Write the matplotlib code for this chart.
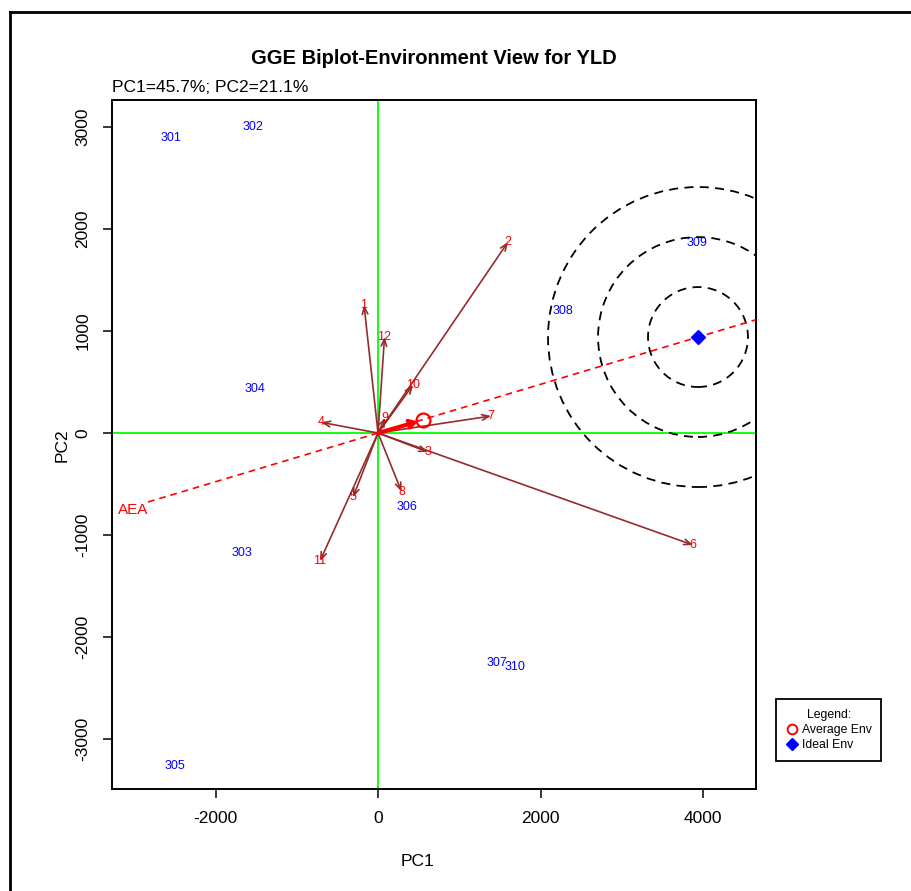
import matplotlib
matplotlib.use("Agg")
import matplotlib.pyplot as plt
from matplotlib.patches import Ellipse
from matplotlib.lines import Line2D

plt.rcParams['font.family'] = ['Liberation Sans', 'DejaVu Sans']

# ---- data ----
env_labels = ['1', '2', '3', '4', '5', '6', '7', '8', '9', '10', '11', '12']
env_x = [-172, 1600, 615, -700, -308, 3877, 1391, 290, 90, 431, -714, 80]
env_y = [1255, 1873, -186, 105, -630, -1098, 167, -575, 150, 471, -1255, 941]

gen_labels = ['301', '302', '303', '304', '305', '306', '307', '308', '309', '310']
gen_x = [-2548, -1538, -1674, -1514, -2498, 357, 1465, 2277, 3926, 1686]
gen_y = [2892, 3000, -1176, 431, -3265, -725, -2255, 1196, 1863, -2294]

avg_env = (554, 127)
ideal_env = (3938, 941)
aea_x = [-2830, 5200]
aea_y = [-676, 1242]
aea_label_pos = (-3015, -755)
circle_radii = [615, 1230, 1846]   # in PC1 units

xticks = [-2000, 0, 2000, 4000]
yticks = [-3000, -2000, -1000, 0, 1000, 2000, 3000]
xlim = (-3274, 4652)
ylim = (-3490, 3265)

W, H = 912, 891
fig = plt.figure(figsize=(W / 100, H / 100), dpi=100)
ax = fig.add_axes([112 / W, 1 - 789 / H, (756 - 112) / W, (789 - 100) / H])
ax.set_xlim(*xlim)
ax.set_ylim(*ylim)

# green reference axes
ax.axhline(0, color='#00FF00', lw=1.3, zorder=1)
ax.axvline(0, color='#00FF00', lw=1.3, zorder=1)

# concentric circles around ideal env (circular on screen)
ax_w_px = (756 - 112)
ax_h_px = (789 - 100)
sx = ax_w_px / (xlim[1] - xlim[0])
sy = ax_h_px / (ylim[1] - ylim[0])
for r in circle_radii:
    e = Ellipse(ideal_env, width=2 * r, height=2 * r * sx / sy, fill=False,
                edgecolor='black', lw=1.3, linestyle=(0, (5, 3.5)), zorder=2)
    ax.add_patch(e)

# AEA dashed line
ax.plot(aea_x, aea_y, color='red', lw=1.2, linestyle=(0, (4, 3)), zorder=3)
ax.text(*aea_label_pos, 'AEA', color='red', fontsize=11, ha='center', va='center')

# environment vectors
vec_color = '#962B2B'
for lab, x, y in zip(env_labels, env_x, env_y):
    ax.annotate('', xy=(x, y), xytext=(0, 0),
                arrowprops=dict(arrowstyle='->,head_length=0.5,head_width=0.2',
                                color=vec_color, lw=1.2, shrinkA=0, shrinkB=0),
                zorder=4)
    ax.text(x, y, lab, color='red', fontsize=9, ha='center', va='center', zorder=5)

# average env arrow
ax.annotate('', xy=avg_env, xytext=(0, 0),
            arrowprops=dict(arrowstyle='->,head_length=0.4,head_width=0.25',
                            color='red', lw=3, shrinkA=0, shrinkB=4),
            zorder=5)
ax.plot([avg_env[0]], [avg_env[1]], marker='o', ms=10, mfc='none', mec='red', mew=1.6, zorder=6)

# ideal env
ax.plot([ideal_env[0]], [ideal_env[1]], marker='D', ms=7, color='blue', zorder=6)

# genotype labels
for lab, x, y in zip(gen_labels, gen_x, gen_y):
    ax.text(x, y, lab, color='blue', fontsize=9, ha='center', va='center', zorder=5)

# ticks
ax.set_xticks(xticks)
ax.set_yticks(yticks)
ax.set_xticklabels([str(t) for t in xticks])
ax.set_yticklabels([str(t) for t in yticks], rotation=90, va='center')
ax.tick_params(direction='out', length=6.5, width=1.1, labelsize=12.5, pad=9)
for s in ax.spines.values():
    s.set_linewidth(1.4)

# texts
fig.text(434 / W, 1 - 58 / H, 'GGE Biplot-Environment View for YLD', ha='center', va='center',
         fontsize=14.5, fontweight='bold')
fig.text(112 / W, 1 - 88 / H, 'PC1=45.7%; PC2=21.1%', ha='left', va='center', fontsize=12.5)
fig.text(418 / W, 1 - 862 / H, 'PC1', ha='center', va='center', fontsize=12.5)
fig.text(62 / W, 1 - 445 / H, 'PC2', ha='center', va='center', fontsize=12.5, rotation=90)

# legend
handles = [Line2D([], [], marker='o', ls='none', mfc='none', mec='red', mew=1.4, ms=7),
           Line2D([], [], marker='D', ls='none', color='blue', ms=6)]
leg = fig.legend(handles, ['Average Env', 'Ideal Env'], title='Legend:',
                 loc='upper left', bbox_to_anchor=(776 / W, 1 - 699 / H),
                 fontsize=8.8, title_fontsize=8.8, fancybox=False, framealpha=1,
                 edgecolor='black', handletextpad=0.3, borderpad=0.8,
                 handlelength=1.0, labelspacing=0.25, borderaxespad=0)
leg.get_frame().set_linewidth(1.3)

# outer frame
fig.add_artist(Line2D([10 / W, 10 / W], [0, 1 - 12 / H], color='black', lw=2))
fig.add_artist(Line2D([10 / W, 1], [1 - 12 / H, 1 - 12 / H], color='black', lw=2))

fig.savefig('out.png', dpi=100)
